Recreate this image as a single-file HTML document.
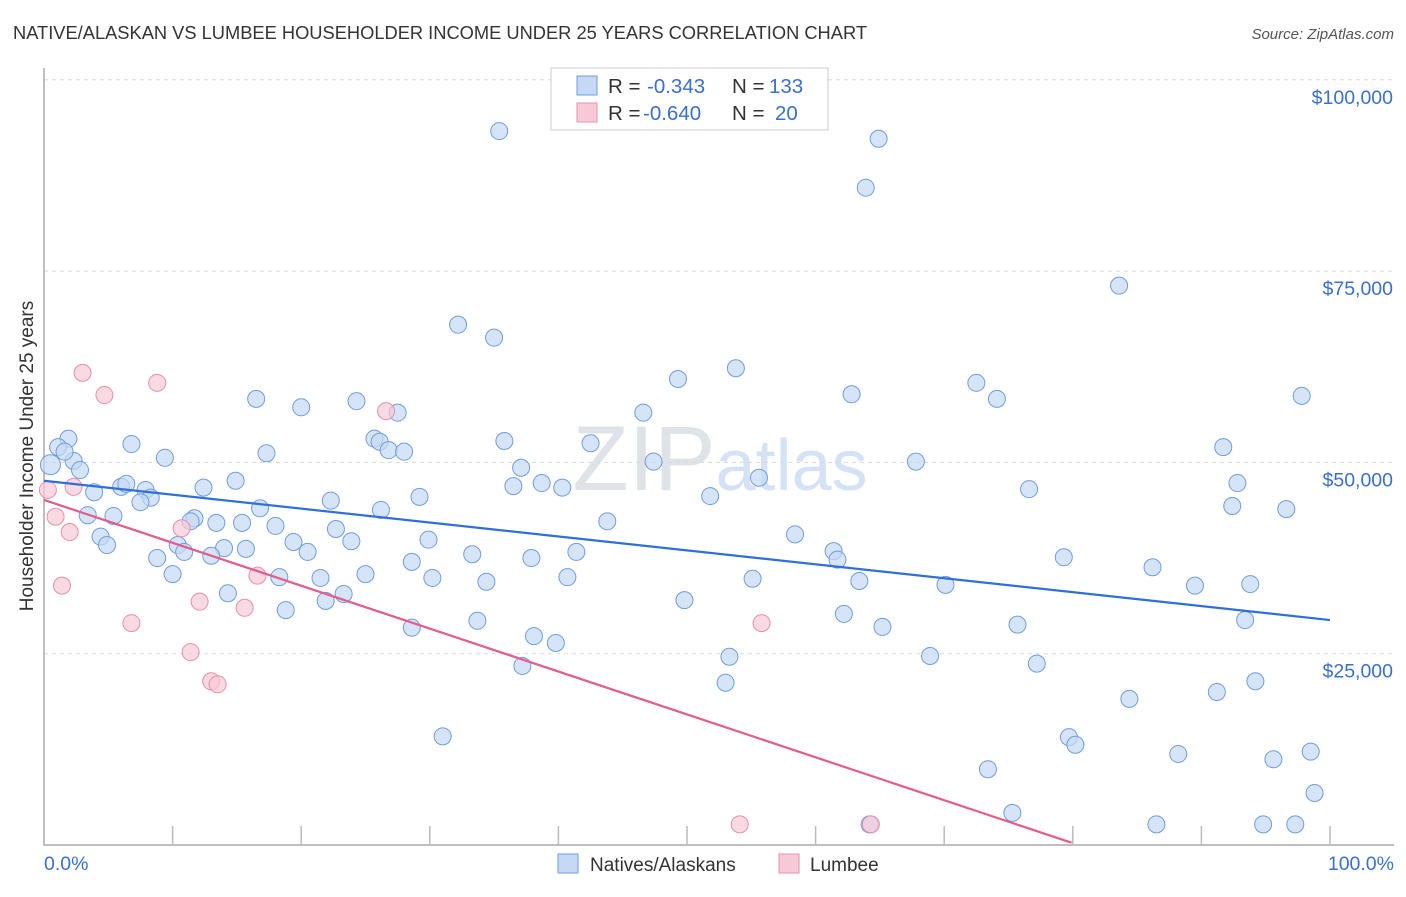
<!DOCTYPE html>
<html><head><meta charset="utf-8"><style>
body{margin:0;background:#fff;font-family:"Liberation Sans",sans-serif;}
svg text{font-family:"Liberation Sans",sans-serif;}
</style></head><body>
<svg id="chart" width="1406" height="892" xmlns="http://www.w3.org/2000/svg">
<text x="13" y="39" font-size="18.3" fill="#333">NATIVE/ALASKAN VS LUMBEE HOUSEHOLDER INCOME UNDER 25 YEARS CORRELATION CHART</text>
<text x="1394" y="39" font-size="15" fill="#555" text-anchor="end" font-style="italic">Source: ZipAtlas.com</text>
<text x="720" y="490" font-size="92" fill="#e6ebf3" text-anchor="middle" font-family="Liberation Serif"><tspan fill="#dfe3e8">ZIP</tspan><tspan font-family="Liberation Sans" fill="#d5e2f5" font-size="72">atlas</tspan></text>
<g id="grid"></g>
<text transform="translate(33,456) rotate(-90)" font-size="19" fill="#333" text-anchor="middle">Householder Income Under 25 years</text>
<g id="marks"></g>
<g>
<rect x="551" y="68" width="277" height="62" fill="#fff" stroke="#ccc"/>
<rect x="577" y="76" width="20" height="19" fill="#c5d8f5" stroke="#6f9de0"/>
<rect x="577" y="103" width="20" height="19" fill="#f7c9d6" stroke="#e98fab"/>
<text x="608" y="93" font-size="20.5" fill="#333">R =</text>
<text x="647" y="93" font-size="20.5" fill="#3a6fd0">-0.343</text>
<text x="732" y="93" font-size="20.5" fill="#333">N =</text>
<text x="769" y="93" font-size="20.5" fill="#3a6fd0">133</text>
<text x="608" y="120" font-size="20.5" fill="#333">R =</text>
<text x="643" y="120" font-size="20.5" fill="#3a6fd0">-0.640</text>
<text x="732" y="120" font-size="20.5" fill="#333">N =</text>
<text x="775" y="120" font-size="20.5" fill="#3a6fd0">20</text>
</g>
<g>
<rect x="558" y="854" width="20" height="19" fill="#c5d8f5" stroke="#6f9de0"/>
<text x="590" y="871" font-size="19" fill="#333">Natives/Alaskans</text>
<rect x="779" y="854" width="20" height="19" fill="#f7c9d6" stroke="#e98fab"/>
<text x="810" y="871" font-size="19" fill="#333">Lumbee</text>
</g>
<text x="44" y="870" font-size="19.5" fill="#3a6fd0">0.0%</text>
<text x="1394" y="870" font-size="19.5" fill="#3a6fd0" text-anchor="end">100.0%</text>
</svg>
<script>
const yTicks=[25000,50000,75000,100000];
const yTickLabels=["$25,000","$50,000","$75,000","$100,000"];
const xTicks=[0,10,20,30,40,50,60,70,80,90,100];
const blueX=[35.4,64.9,63.9,83.6,32.2,35.0,49.3,53.8,72.5,16.5,20.0,24.3,27.5,62.8,74.1,97.8,46.6,1.9,1.1,6.8,2.3,2.8,9.4,17.3,25.7,26.1,26.8,28.0,35.8,42.5,37.1,91.7,47.4,67.8,3.9,6.0,6.4,7.9,8.3,7.5,12.4,14.9,36.5,38.7,40.3,55.6,76.6,92.8,29.2,22.3,51.8,92.4,96.6,3.4,5.4,16.8,26.2,11.7,11.4,13.4,15.4,18.0,43.8,4.4,4.9,10.4,14.0,15.7,19.4,20.5,23.9,22.7,29.9,8.8,10.9,13.0,58.4,61.4,61.7,33.3,37.9,41.4,79.3,10.0,18.3,21.5,25.0,28.6,30.2,34.4,40.7,55.1,63.4,70.1,86.2,89.5,93.8,14.3,23.3,21.9,18.8,49.8,62.2,33.7,28.6,65.2,75.7,93.4,38.1,39.8,53.3,68.9,37.2,77.2,53.0,94.2,91.2,84.4,31.0,79.7,80.2,88.2,98.5,95.6,73.4,98.8,75.3,86.5,64.2,94.8,97.3,0.5,1.6];
const blueY=[93.3,92.3,85.9,73.1,68.0,66.3,60.9,62.3,60.4,58.3,57.2,58.0,56.5,58.9,58.3,58.7,56.5,53.1,52.0,52.4,50.2,49.0,50.6,51.2,53.1,52.7,51.6,51.4,52.8,52.5,49.3,52.0,50.1,50.1,46.1,46.8,47.2,46.4,45.4,44.8,46.7,47.6,46.9,47.3,46.7,48.0,46.5,47.3,45.5,45.0,45.6,44.3,43.9,43.1,43.0,44.0,43.8,42.7,42.3,42.1,42.1,41.7,42.3,40.3,39.2,39.2,38.8,38.7,39.6,38.3,39.7,41.3,39.9,37.5,38.3,37.8,40.6,38.4,37.3,38.0,37.5,38.3,37.6,35.4,35.0,34.9,35.4,37.0,34.9,34.4,35.0,34.8,34.5,34.0,36.3,33.9,34.1,32.9,32.8,31.9,30.7,32.0,30.2,29.3,28.4,28.5,28.8,29.4,27.3,26.4,24.6,24.7,23.4,23.7,21.2,21.4,20.0,19.1,14.2,14.1,13.1,11.9,12.2,11.2,9.9,6.8,4.2,2.7,2.7,2.7,2.7,49.7,51.4];
const pinkX=[3.0,8.8,4.7,26.6,0.3,2.3,0.9,2.0,10.7,1.4,16.6,12.1,15.6,6.8,55.8,11.4,13.0,13.5,54.1,64.3];
const pinkY=[61.7,60.4,58.8,56.7,46.4,46.8,42.9,40.9,41.4,33.9,35.2,31.8,31.0,29.0,29.0,25.2,21.4,21.0,2.7,2.7];
const blueTrend=[47.6,29.4];
const pinkTrend=[45.1,0.3,79.9];
const NS="http://www.w3.org/2000/svg";
const X0=44,X1=1330,Y0=845,PER=191.3/25000;
const sx=v=>X0+(X1-X0)*v/100;
const sy=v=>Y0-v*PER;
function mk(tag,attrs,parent){const e=document.createElementNS(NS,tag);for(const k in attrs)e.setAttribute(k,attrs[k]);parent.appendChild(e);return e;}
const grid=document.getElementById('grid');
yTicks.forEach((t,i)=>{
 const l=mk('line',{x1:X0,x2:1394,y1:sy(t),y2:sy(t),stroke:'#d8d8d8','stroke-dasharray':'4,4'},grid);
 
 
 const tx=mk('text',{x:1393,y:sy(t)+24,'font-size':19.5,fill:'#3a6fd0','text-anchor':'end'},grid);
 tx.textContent=yTickLabels[i];
 
 
});
const ax=mk('path',{d:`M${X0} 68V${Y0}H1394`,stroke:'#aaa',fill:'none','stroke-width':1.5},grid);


xTicks.forEach(t=>{if(t===0)return;
 const l=mk('line',{x1:sx(t),x2:sx(t),y1:826,y2:Y0,stroke:'#bbb','stroke-width':1.5},grid);
 
 
});
const marks=document.getElementById('marks');
function dots(xs,ys,fill,stroke,name){xs.forEach((x,i)=>{
 const c=mk('circle',{cx:sx(x),cy:sy(ys[i]*1000),r:(name==='native-point'&&i===xs.length-2)?10:8.5,fill:fill,'fill-opacity':0.7,stroke:stroke,'stroke-width':1},marks);
 
 
});}
dots(blueX,blueY,'#c5d8f5','#6f9de0','native-point');
dots(pinkX,pinkY,'#f7c9d6','#e98fab','lumbee-point');
const bl=mk('line',{x1:sx(0),y1:sy(blueTrend[0]*1000),x2:sx(100),y2:sy(blueTrend[1]*1000),stroke:'#2e6fdc','stroke-width':2.2},marks);


const pl=mk('line',{x1:sx(0),y1:sy(pinkTrend[0]*1000),x2:sx(pinkTrend[2]),y2:sy(pinkTrend[1]*1000),stroke:'#e45c8c','stroke-width':2.2},marks);


</script>
</body></html>
